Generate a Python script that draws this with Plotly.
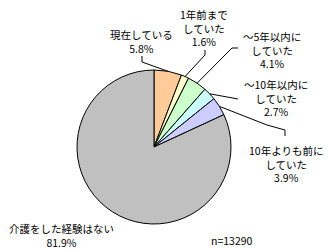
import math
import plotly.graph_objects as go

labels = ["現在している", "1年前まで<br>していた", "～5年以内に<br>していた",
          "～10年以内に<br>していた", "10年よりも前に<br>していた", "介護をした経験はない"]
values = [5.8, 1.6, 4.1, 2.7, 3.9, 81.9]
colors = ["#FFCC99", "#FFFFCC", "#CCFFCC", "#CCFFFF", "#CCCCFF", "#C0C0C0"]
n_text = "n=13290"

W, H = 330, 250
cx, cy, r = 154, 147, 77  # pie geometry in pixels


def px(x):
    return x / W


def py(y):
    return 1 - y / H


fig = go.Figure(go.Pie(
    labels=labels, values=values, sort=False, direction="clockwise", rotation=0,
    marker=dict(colors=colors, line=dict(color="black", width=1)),
    textinfo="none", hoverinfo="label+percent", showlegend=False,
    domain=dict(x=[px(cx - r), px(cx + r)], y=[py(cy + r), py(cy - r)]),
))

# label centres and leader elbows (pixels)
label_pos = [(141, 41), (204, 28), (272, 50), (276, 98), (286, 164), (61, 235)]
elbows = [
    [(142, 62), (142, 56)],
    [(205, 55), (205, 50)],
    [(232, 48), (238, 48)],
    [(238, 99)],
    [(267, 125), (285, 130), (285, 136)],
    None,
]

font = dict(family="Noto Sans CJK JP", size=10.5, color="black")
total = sum(values)
cum = 0
for i, (lab, v) in enumerate(zip(labels, values)):
    mid = (cum + v / 2) / total * 2 * math.pi
    cum += v
    lx, ly = label_pos[i]
    fig.add_annotation(x=px(lx), y=py(ly), xref="paper", yref="paper",
                       text=f"{lab}<br>{v:.1f}%", showarrow=False, font=font,
                       align="center", xanchor="center", yanchor="middle")
    if elbows[i]:
        ex, ey = cx + r * math.sin(mid), cy - r * math.cos(mid)
        pts = [(ex, ey)] + elbows[i]
        path = "M " + " L ".join(f"{px(a):.4f},{py(b):.4f}" for a, b in pts)
        fig.add_shape(type="path", path=path, xref="paper", yref="paper",
                      line=dict(color="black", width=1))

fig.add_annotation(x=px(232), y=py(240), xref="paper", yref="paper", text=n_text,
                   showarrow=False, font=font, xanchor="center", yanchor="middle")

fig.update_layout(width=W, height=H, margin=dict(l=0, r=0, t=0, b=0),
                  paper_bgcolor="white", plot_bgcolor="white")
fig.write_html("out.html")
